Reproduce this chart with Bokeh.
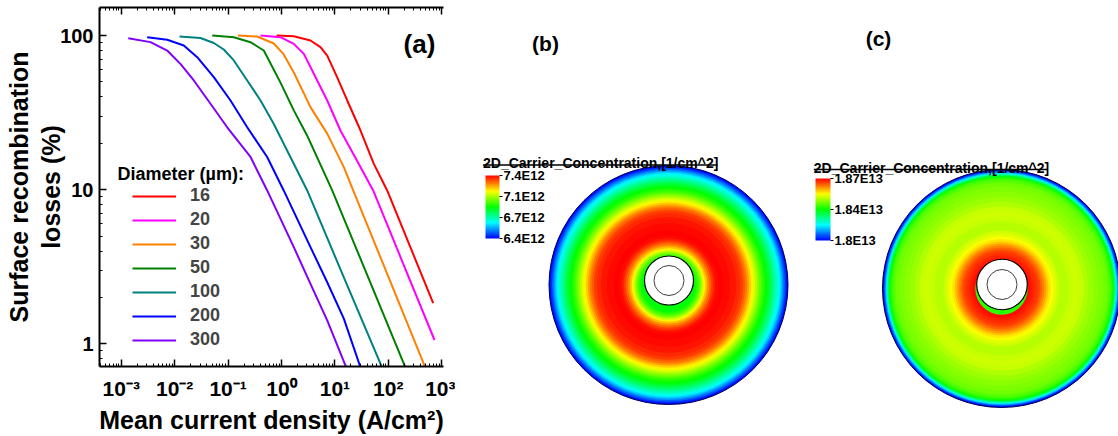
from bokeh.plotting import figure
from bokeh.models import (FixedTicker, LogAxis, Label, Legend, LegendItem,
                          LinearColorMapper, ColorBar, ColumnDataSource, Range1d)
from bokeh.layouts import row
from bokeh.embed import file_html
from bokeh.resources import INLINE

FONT = "Liberation Sans"

# ---------------- panel (a) data ----------------
diameters = ["16", "20", "30", "50", "100", "200", "300"]
line_colors = ["#ff0000", "#ff00ff", "#ff8000", "#008000", "#008080", "#0000ff", "#8000ff"]

j_16 = [0.81, 1.70, 3.49, 5.37, 7.18, 11.0, 17.0, 30.2, 53.6, 95.3, 260, 693]
loss_16 = [100, 98.9, 92.8, 84.0, 74.1, 53.7, 37.9, 24.2, 14.7, 9.89, 4.22, 1.84]
j_20 = [0.405, 0.957, 1.70, 2.62, 4.03, 7.18, 12.7, 27.7, 52.1, 169, 733]
loss_20 = [100, 97.5, 88.3, 76.0, 56.5, 37.9, 24.2, 14.8, 9.89, 3.66, 1.06]
j_30 = [0.153, 0.351, 0.718, 1.10, 1.70, 3.49, 7.18, 14.7, 22.0, 101, 495]
loss_30 = [100, 98.5, 88.7, 75.4, 57.5, 34.3, 23.1, 14.0, 9.89, 2.71, 0.70]
j_50 = [0.0504, 0.128, 0.263, 0.466, 0.957, 1.70, 3.03, 8.90, 42.6, 210]
loss_50 = [100, 97.5, 90.5, 79.9, 49.5, 32.7, 22.4, 9.89, 2.67, 0.70]
j_100 = [0.0123, 0.0304, 0.054, 0.083, 0.128, 0.228, 0.405, 0.718, 1.28, 3.03, 14.9, 76.9]
loss_100 = [98.5, 96.3, 89.4, 81.1, 68.9, 51.1, 37.9, 26.7, 17.9, 9.89, 2.67, 0.70]
j_200 = [0.00305, 0.00724, 0.0148, 0.0264, 0.054, 0.111, 0.228, 0.539, 1.10, 3.49, 7.18, 14.7, 30.3]
loss_200 = [97.5, 93.8, 86.1, 72.3, 53.7, 37.9, 25.4, 16.3, 9.89, 4.24, 2.51, 1.46, 0.70]
j_300 = [0.00135, 0.00352, 0.00724, 0.0128, 0.0228, 0.0468, 0.0962, 0.263, 0.539, 1.70, 3.49, 7.18, 16.4]
loss_300 = [96.0, 90.6, 79.9, 65.5, 51.1, 36.1, 25.4, 16.3, 9.89, 4.24, 2.45, 1.42, 0.70]

x_tick_values = [0.001, 0.01, 0.1, 1.0, 10.0, 100.0, 1000.0]
x_tick_labels = ["10\u207b\u00b3", "10\u207b\u00b2", "10\u207b\u00b9", "10\u2070",
                 "10\u00b9", "10\u00b2", "10\u00b3"]
y_tick_values = [1, 10, 100]
y_tick_labels = ["1", "10", "100"]

# ---------------- panels (b), (c) data: radial carrier-concentration profiles ----------------
# ring outer radius in px of the picture (outermost first), value in 1E12 cm^-2
ring_r_b = [120, 118.5, 117, 115.5, 114, 112.5, 111, 109, 107, 105, 103, 101, 99, 97, 95,
            93, 91, 89, 87, 85, 83, 81, 79, 77, 75, 72, 68, 62, 55, 50, 47, 45, 43, 41,
            39, 37, 35.5, 34, 32.5, 31, 29.5, 28, 26.5]
conc_b = [6.41, 6.45, 6.50, 6.55, 6.60, 6.64, 6.68, 6.72, 6.76, 6.80, 6.84, 6.87, 6.90, 6.93,
          6.96, 7.00, 7.04, 7.08, 7.12, 7.16, 7.20, 7.24, 7.28, 7.31, 7.34, 7.36, 7.38, 7.39,
          7.40, 7.39, 7.37, 7.34, 7.30, 7.26, 7.21, 7.16, 7.11, 7.06, 7.01, 6.97, 6.94, 6.91,
          6.89]
cbar_b_ticks = [6.4, 6.7333, 7.0667, 7.4]
cbar_b_labels = ["6.4E12", "6.7E12", "7.1E12", "7.4E12"]

# value in 1E13 cm^-2
ring_r_c = [119, 118, 117, 116, 115, 114, 113, 112, 110.5, 108.5, 106, 102, 97, 92, 87, 82,
            77, 72, 67, 62, 58, 55, 52, 49.5, 47, 45, 43, 41, 39, 37, 34.5, 32, 29.5, 27.5, 26.2]
conc_c = [1.800, 1.804, 1.809, 1.815, 1.821, 1.827, 1.832, 1.836, 1.839, 1.841, 1.8425,
          1.8435, 1.8445, 1.8455, 1.847, 1.8485, 1.849, 1.8485, 1.8475, 1.8475, 1.849, 1.8505,
          1.852, 1.854, 1.8565, 1.859, 1.861, 1.863, 1.865, 1.866, 1.867, 1.868, 1.869, 1.869,
          1.838]
cbar_c_ticks = [1.80, 1.835, 1.87]
cbar_c_labels = ["1.8E13", "1.84E13", "1.87E13"]

title_text = "2D_Carrier_Concentration,[1/cm^2]"

# ---------------- layout constants (pixels) ----------------
W_TOTAL, H = 1118, 436
W_A = 455
FL, FR, FT, FB = 99, 443, 7, 366
X_DEC, Y_DEC = 53.4, 154.2
X0_PX, Y100_PX = 281.0, 35.0


def px2x(px):
    return 10 ** ((px - X0_PX) / X_DEC)


def px2y(py):
    return 10 ** (2 - (py - Y100_PX) / Y_DEC)


def fy(py):
    return H - py


def rainbow(n=256):
    stops = [0.0, 0.25, 0.5, 0.75, 1.0]
    rgb = [(0, 0, 255), (0, 255, 255), (0, 255, 0), (255, 255, 0), (255, 0, 0)]
    out = []
    for i in range(n):
        t = i / (n - 1)
        k = 0
        while k < 3 and t > stops[k + 1]:
            k += 1
        f = (t - stops[k]) / (stops[k + 1] - stops[k])
        c = [round(a + (b - a) * f) for a, b in zip(rgb[k], rgb[k + 1])]
        out.append("#%02x%02x%02x" % tuple(c))
    return out


PALETTE = rainbow()

# ================= panel (a) =================
pa = figure(width=W_A, height=H, x_axis_type="log", y_axis_type="log",
            x_range=Range1d(px2x(FL), px2x(FR)), y_range=Range1d(px2y(FB), px2y(FT)),
            min_border_left=FL, min_border_right=W_A - FR, min_border_top=FT,
            min_border_bottom=H - FB, x_axis_location=None, y_axis_location=None,
            toolbar_location=None, output_backend="svg")
pa.frame_align = False
pa.outline_line_color = None
pa.grid.visible = False
pa.background_fill_color = "white"
pa.border_fill_color = "white"

xt = FixedTicker(ticks=x_tick_values,
                 minor_ticks=[m * 10.0 ** k for k in range(-4, 4) for m in range(2, 10)])
yt = FixedTicker(ticks=y_tick_values,
                 minor_ticks=[m * 10.0 ** k for k in range(-1, 3) for m in range(2, 10)])


def style_axis(ax):
    ax.axis_line_width = 2
    ax.axis_line_color = "black"
    ax.major_tick_in = 7
    ax.major_tick_out = 0
    ax.minor_tick_in = 3
    ax.minor_tick_out = 0
    ax.major_tick_line_width = 1.5
    ax.minor_tick_line_width = 1
    ax.major_tick_line_color = "black"
    ax.minor_tick_line_color = "black"


label_style = dict(major_label_text_font=FONT, major_label_text_font_style="bold",
                   major_label_text_color="black")
title_style = dict(axis_label_text_font=FONT, axis_label_text_font_style="bold",
                   axis_label_text_font_size="25px", axis_label_text_color="black")

bottom = LogAxis(ticker=xt, major_label_overrides=dict(zip(x_tick_values, x_tick_labels)),
                 major_label_text_font_size="21px",
                 major_label_standoff=10, axis_label="Mean current density (A/cm\u00b2)",
                 axis_label_standoff=3, **label_style, **title_style)
top = LogAxis(ticker=xt, major_label_text_font_size="1px", major_label_text_alpha=0,
              major_label_standoff=0)
left = LogAxis(ticker=yt, major_label_overrides=dict(zip(y_tick_values, y_tick_labels)),
               major_label_text_font_size="20px",
               major_label_standoff=6, axis_label="losses (%)", axis_label_standoff=-8,
               **label_style, **title_style)
left_outer = LogAxis(ticker=FixedTicker(ticks=[]), axis_line_color=None,
                     major_tick_line_color=None, minor_tick_line_color=None,
                     major_label_standoff=0, axis_label="Surface recombination",
                     axis_label_standoff=2, **title_style)
for ax in (bottom, top, left):
    style_axis(ax)
pa.add_layout(bottom, "below")
pa.add_layout(top, "above")
pa.add_layout(left, "left")
pa.add_layout(left_outer, "left")

all_j = [j_16, j_20, j_30, j_50, j_100, j_200, j_300]
all_loss = [loss_16, loss_20, loss_30, loss_50, loss_100, loss_200, loss_300]
items = []
for d, col, jj, ll in zip(diameters, line_colors, all_j, all_loss):
    r = pa.line(jj, ll, line_color=col, line_width=2)
    items.append(LegendItem(label=d, renderers=[r]))

leg = Legend(items=items, location=(33, 16), glyph_width=44, glyph_height=20,
             label_height=20, spacing=3, padding=0, margin=0, label_standoff=14,
             label_text_font=FONT,
             label_text_font_style="bold", label_text_font_size="18px",
             background_fill_alpha=0, border_line_alpha=0)
pa.add_layout(leg)


def lab(p, x, y, text, size, align="left", baseline="middle", angle=0, **kw):
    p.add_layout(Label(x=x, y=y, text=text, text_font=FONT, text_font_style="bold",
                       text_font_size=size, text_align=align, text_baseline=baseline,
                       text_color="black", angle=angle, angle_units="deg", **kw))


lab(pa, px2x(419), px2y(43), "(a)", "26px", align="center", baseline="middle")
lab(pa, px2x(117), px2y(173), "Diameter (\u00b5m):", "18px", align="left", baseline="middle")

# ================= panels (b) and (c) =================
pr = figure(width=W_TOTAL - W_A, height=H, x_range=Range1d(W_A, W_TOTAL), y_range=Range1d(0, H),
            min_border=0, x_axis_location=None, y_axis_location=None,
            toolbar_location=None, output_backend="svg")
pr.frame_align = False
pr.outline_line_color = None
pr.grid.visible = False
pr.background_fill_color = "white"
pr.border_fill_color = "white"


def draw_panel(cx, cy, R, hx, hy, hole_r, inner_r, ring_r, conc, low, high, ticks, tick_labels,
               cb_x, cb_y, cb_w, cb_h, title_x, title_y, title_w, letter, letter_x, letter_y):
    mapper = LinearColorMapper(palette=PALETTE, low=low, high=high)
    scale = R / ring_r[0]
    src = ColumnDataSource(dict(r=[rr * scale for rr in ring_r], v=conc))
    pr.circle(x=cx, y=fy(cy), radius="r", source=src,
              fill_color={"field": "v", "transform": mapper}, line_color=None)
    pr.circle(x=cx, y=fy(cy), radius=R, fill_color=None, line_color="#000050", line_width=1)
    pr.circle(x=hx, y=fy(hy), radius=hole_r, fill_color="white", line_color="black", line_width=1.2)
    pr.circle(x=hx, y=fy(hy), radius=inner_r, fill_color=None, line_color="#404040", line_width=1)
    cb = ColorBar(color_mapper=mapper, orientation="vertical",
                  location=(cb_x - W_A, H - cb_y - cb_h), width=cb_w, height=cb_h,
                  padding=0, margin=0, ticker=FixedTicker(ticks=ticks),
                  major_label_overrides=dict(zip(ticks, tick_labels)),
                  major_label_text_font=FONT, major_label_text_font_style="bold",
                  major_label_text_font_size="13px", major_label_text_color="black",
                  major_tick_in=0, major_tick_out=3, major_tick_line_color="black",
                  label_standoff=1, bar_line_color=None, background_fill_alpha=0,
                  border_line_color=None)
    pr.add_layout(cb)
    lab(pr, title_x, fy(title_y), title_text, "14px", align="left", baseline="alphabetic")
    pr.segment(x0=[title_x], y0=[fy(title_y + 1.8)], x1=[title_x + title_w],
               y1=[fy(title_y + 1.8)], line_color="black", line_width=1.5)
    lab(pr, letter_x, fy(letter_y), letter, "21px", align="center", baseline="middle")


draw_panel(668, 284.5, 119.5, 668.5, 280, 24.5, 15, ring_r_b, conc_b, 6.4, 7.4,
           cbar_b_ticks, cbar_b_labels, 485, 175, 14, 63, 482.5, 162.8, 234.5, "(b)", 545, 42.5)
draw_panel(1001, 288, 119, 1001.5, 284, 25.3, 15, ring_r_c, conc_c, 1.80, 1.87,
           cbar_c_ticks, cbar_c_labels, 815, 178, 15, 62, 813.3, 167.3, 233.5, "(c)", 878, 37.5)

layout = row(pa, pr)
open("out.html", "w").write(file_html(layout, INLINE))
